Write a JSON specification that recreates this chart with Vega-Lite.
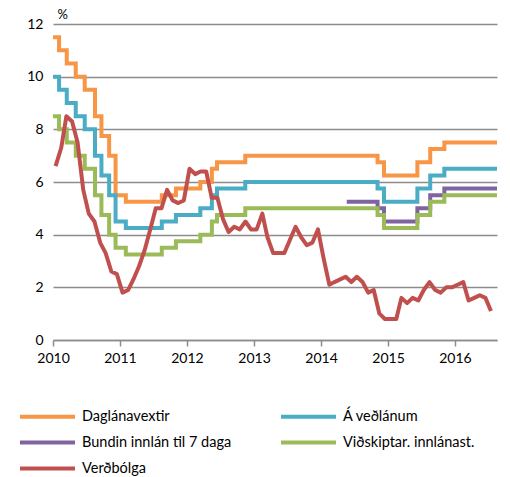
{
  "$schema": "https://vega.github.io/schema/vega-lite/v6.json",
  "width": 444,
  "height": 316,
  "autosize": "none",
  "padding": {"left": 53, "top": 24, "right": 13, "bottom": 137},
  "background": "white",
  "config": {
    "view": {"stroke": null},
    "font": "Lato",
    "axis": {"labelFont": "Lato", "labelFontSize": 14, "labelColor": "#000000", "titleFont": "Lato"},
    "legend": {"labelFont": "Lato"}
  },
  "datasets": {
    "rates": [
      {"date": "2010-01-01", "series": "Daglánavextir", "value": 11.5},
      {"date": "2010-02-03", "series": "Daglánavextir", "value": 11.0},
      {"date": "2010-03-17", "series": "Daglánavextir", "value": 10.5},
      {"date": "2010-05-05", "series": "Daglánavextir", "value": 10.0},
      {"date": "2010-06-23", "series": "Daglánavextir", "value": 9.5},
      {"date": "2010-08-18", "series": "Daglánavextir", "value": 8.5},
      {"date": "2010-09-22", "series": "Daglánavextir", "value": 7.75},
      {"date": "2010-11-03", "series": "Daglánavextir", "value": 7.0},
      {"date": "2010-12-08", "series": "Daglánavextir", "value": 5.5},
      {"date": "2011-02-02", "series": "Daglánavextir", "value": 5.25},
      {"date": "2011-08-17", "series": "Daglánavextir", "value": 5.5},
      {"date": "2011-11-02", "series": "Daglánavextir", "value": 5.75},
      {"date": "2012-03-14", "series": "Daglánavextir", "value": 6.0},
      {"date": "2012-05-16", "series": "Daglánavextir", "value": 6.5},
      {"date": "2012-06-13", "series": "Daglánavextir", "value": 6.75},
      {"date": "2012-11-14", "series": "Daglánavextir", "value": 7.0},
      {"date": "2014-11-05", "series": "Daglánavextir", "value": 6.75},
      {"date": "2014-12-10", "series": "Daglánavextir", "value": 6.25},
      {"date": "2015-06-10", "series": "Daglánavextir", "value": 6.75},
      {"date": "2015-08-19", "series": "Daglánavextir", "value": 7.25},
      {"date": "2015-11-04", "series": "Daglánavextir", "value": 7.5},
      {"date": "2016-08-17", "series": "Daglánavextir", "value": 7.5},

      {"date": "2010-01-01", "series": "Á veðlánum", "value": 10.0},
      {"date": "2010-02-03", "series": "Á veðlánum", "value": 9.5},
      {"date": "2010-03-17", "series": "Á veðlánum", "value": 9.0},
      {"date": "2010-05-05", "series": "Á veðlánum", "value": 8.5},
      {"date": "2010-06-23", "series": "Á veðlánum", "value": 8.0},
      {"date": "2010-08-18", "series": "Á veðlánum", "value": 7.0},
      {"date": "2010-09-22", "series": "Á veðlánum", "value": 6.25},
      {"date": "2010-11-03", "series": "Á veðlánum", "value": 5.5},
      {"date": "2010-12-08", "series": "Á veðlánum", "value": 4.5},
      {"date": "2011-02-02", "series": "Á veðlánum", "value": 4.25},
      {"date": "2011-08-17", "series": "Á veðlánum", "value": 4.5},
      {"date": "2011-11-02", "series": "Á veðlánum", "value": 4.75},
      {"date": "2012-03-14", "series": "Á veðlánum", "value": 5.0},
      {"date": "2012-05-16", "series": "Á veðlánum", "value": 5.5},
      {"date": "2012-06-13", "series": "Á veðlánum", "value": 5.75},
      {"date": "2012-11-14", "series": "Á veðlánum", "value": 6.0},
      {"date": "2014-11-05", "series": "Á veðlánum", "value": 5.75},
      {"date": "2014-12-10", "series": "Á veðlánum", "value": 5.25},
      {"date": "2015-06-10", "series": "Á veðlánum", "value": 5.75},
      {"date": "2015-08-19", "series": "Á veðlánum", "value": 6.25},
      {"date": "2015-11-04", "series": "Á veðlánum", "value": 6.5},
      {"date": "2016-08-17", "series": "Á veðlánum", "value": 6.5},

      {"date": "2014-05-21", "series": "Bundin innlán til 7 daga", "value": 5.25},
      {"date": "2014-11-05", "series": "Bundin innlán til 7 daga", "value": 5.0},
      {"date": "2014-12-10", "series": "Bundin innlán til 7 daga", "value": 4.5},
      {"date": "2015-06-10", "series": "Bundin innlán til 7 daga", "value": 5.0},
      {"date": "2015-08-19", "series": "Bundin innlán til 7 daga", "value": 5.5},
      {"date": "2015-11-04", "series": "Bundin innlán til 7 daga", "value": 5.75},
      {"date": "2016-08-17", "series": "Bundin innlán til 7 daga", "value": 5.75},

      {"date": "2010-01-01", "series": "Viðskiptar. innlánast.", "value": 8.5},
      {"date": "2010-02-03", "series": "Viðskiptar. innlánast.", "value": 8.0},
      {"date": "2010-03-17", "series": "Viðskiptar. innlánast.", "value": 7.5},
      {"date": "2010-05-05", "series": "Viðskiptar. innlánast.", "value": 7.0},
      {"date": "2010-06-23", "series": "Viðskiptar. innlánast.", "value": 6.5},
      {"date": "2010-08-18", "series": "Viðskiptar. innlánast.", "value": 5.5},
      {"date": "2010-09-22", "series": "Viðskiptar. innlánast.", "value": 4.75},
      {"date": "2010-11-03", "series": "Viðskiptar. innlánast.", "value": 4.0},
      {"date": "2010-12-08", "series": "Viðskiptar. innlánast.", "value": 3.5},
      {"date": "2011-02-02", "series": "Viðskiptar. innlánast.", "value": 3.25},
      {"date": "2011-08-17", "series": "Viðskiptar. innlánast.", "value": 3.5},
      {"date": "2011-11-02", "series": "Viðskiptar. innlánast.", "value": 3.75},
      {"date": "2012-03-14", "series": "Viðskiptar. innlánast.", "value": 4.0},
      {"date": "2012-05-16", "series": "Viðskiptar. innlánast.", "value": 4.5},
      {"date": "2012-06-13", "series": "Viðskiptar. innlánast.", "value": 4.75},
      {"date": "2012-11-14", "series": "Viðskiptar. innlánast.", "value": 5.0},
      {"date": "2014-11-05", "series": "Viðskiptar. innlánast.", "value": 4.75},
      {"date": "2014-12-10", "series": "Viðskiptar. innlánast.", "value": 4.25},
      {"date": "2015-06-10", "series": "Viðskiptar. innlánast.", "value": 4.75},
      {"date": "2015-08-19", "series": "Viðskiptar. innlánast.", "value": 5.25},
      {"date": "2015-11-04", "series": "Viðskiptar. innlánast.", "value": 5.5},
      {"date": "2016-08-17", "series": "Viðskiptar. innlánast.", "value": 5.5}
    ],
    "inflation": [
      {"date": "2010-01-15", "series": "Verðbólga", "value": 6.6},
      {"date": "2010-02-15", "series": "Verðbólga", "value": 7.3},
      {"date": "2010-03-15", "series": "Verðbólga", "value": 8.5},
      {"date": "2010-04-15", "series": "Verðbólga", "value": 8.3},
      {"date": "2010-05-15", "series": "Verðbólga", "value": 7.5},
      {"date": "2010-06-15", "series": "Verðbólga", "value": 5.7},
      {"date": "2010-07-15", "series": "Verðbólga", "value": 4.8},
      {"date": "2010-08-15", "series": "Verðbólga", "value": 4.5},
      {"date": "2010-09-15", "series": "Verðbólga", "value": 3.7},
      {"date": "2010-10-15", "series": "Verðbólga", "value": 3.3},
      {"date": "2010-11-15", "series": "Verðbólga", "value": 2.6},
      {"date": "2010-12-15", "series": "Verðbólga", "value": 2.5},
      {"date": "2011-01-15", "series": "Verðbólga", "value": 1.8},
      {"date": "2011-02-15", "series": "Verðbólga", "value": 1.9},
      {"date": "2011-03-15", "series": "Verðbólga", "value": 2.3},
      {"date": "2011-04-15", "series": "Verðbólga", "value": 2.8},
      {"date": "2011-05-15", "series": "Verðbólga", "value": 3.4},
      {"date": "2011-06-15", "series": "Verðbólga", "value": 4.2},
      {"date": "2011-07-15", "series": "Verðbólga", "value": 5.0},
      {"date": "2011-08-15", "series": "Verðbólga", "value": 5.0},
      {"date": "2011-09-15", "series": "Verðbólga", "value": 5.7},
      {"date": "2011-10-15", "series": "Verðbólga", "value": 5.3},
      {"date": "2011-11-15", "series": "Verðbólga", "value": 5.2},
      {"date": "2011-12-15", "series": "Verðbólga", "value": 5.3},
      {"date": "2012-01-15", "series": "Verðbólga", "value": 6.5},
      {"date": "2012-02-15", "series": "Verðbólga", "value": 6.3},
      {"date": "2012-03-15", "series": "Verðbólga", "value": 6.4},
      {"date": "2012-04-15", "series": "Verðbólga", "value": 6.4},
      {"date": "2012-05-15", "series": "Verðbólga", "value": 5.4},
      {"date": "2012-06-15", "series": "Verðbólga", "value": 5.4},
      {"date": "2012-07-15", "series": "Verðbólga", "value": 4.6},
      {"date": "2012-08-15", "series": "Verðbólga", "value": 4.1},
      {"date": "2012-09-15", "series": "Verðbólga", "value": 4.3},
      {"date": "2012-10-15", "series": "Verðbólga", "value": 4.2},
      {"date": "2012-11-15", "series": "Verðbólga", "value": 4.5},
      {"date": "2012-12-15", "series": "Verðbólga", "value": 4.2},
      {"date": "2013-01-15", "series": "Verðbólga", "value": 4.2},
      {"date": "2013-02-15", "series": "Verðbólga", "value": 4.8},
      {"date": "2013-03-15", "series": "Verðbólga", "value": 3.9},
      {"date": "2013-04-15", "series": "Verðbólga", "value": 3.3},
      {"date": "2013-05-15", "series": "Verðbólga", "value": 3.3},
      {"date": "2013-06-15", "series": "Verðbólga", "value": 3.3},
      {"date": "2013-07-15", "series": "Verðbólga", "value": 3.8},
      {"date": "2013-08-15", "series": "Verðbólga", "value": 4.3},
      {"date": "2013-09-15", "series": "Verðbólga", "value": 3.9},
      {"date": "2013-10-15", "series": "Verðbólga", "value": 3.6},
      {"date": "2013-11-15", "series": "Verðbólga", "value": 3.7},
      {"date": "2013-12-15", "series": "Verðbólga", "value": 4.2},
      {"date": "2014-01-15", "series": "Verðbólga", "value": 3.1},
      {"date": "2014-02-15", "series": "Verðbólga", "value": 2.1},
      {"date": "2014-03-15", "series": "Verðbólga", "value": 2.2},
      {"date": "2014-04-15", "series": "Verðbólga", "value": 2.3},
      {"date": "2014-05-15", "series": "Verðbólga", "value": 2.4},
      {"date": "2014-06-15", "series": "Verðbólga", "value": 2.2},
      {"date": "2014-07-15", "series": "Verðbólga", "value": 2.4},
      {"date": "2014-08-15", "series": "Verðbólga", "value": 2.2},
      {"date": "2014-09-15", "series": "Verðbólga", "value": 1.8},
      {"date": "2014-10-15", "series": "Verðbólga", "value": 1.9},
      {"date": "2014-11-15", "series": "Verðbólga", "value": 1.0},
      {"date": "2014-12-15", "series": "Verðbólga", "value": 0.8},
      {"date": "2015-01-15", "series": "Verðbólga", "value": 0.8},
      {"date": "2015-02-15", "series": "Verðbólga", "value": 0.8},
      {"date": "2015-03-15", "series": "Verðbólga", "value": 1.6},
      {"date": "2015-04-15", "series": "Verðbólga", "value": 1.4},
      {"date": "2015-05-15", "series": "Verðbólga", "value": 1.6},
      {"date": "2015-06-15", "series": "Verðbólga", "value": 1.5},
      {"date": "2015-07-15", "series": "Verðbólga", "value": 1.9},
      {"date": "2015-08-15", "series": "Verðbólga", "value": 2.2},
      {"date": "2015-09-15", "series": "Verðbólga", "value": 1.9},
      {"date": "2015-10-15", "series": "Verðbólga", "value": 1.8},
      {"date": "2015-11-15", "series": "Verðbólga", "value": 2.0},
      {"date": "2015-12-15", "series": "Verðbólga", "value": 2.0},
      {"date": "2016-01-15", "series": "Verðbólga", "value": 2.1},
      {"date": "2016-02-15", "series": "Verðbólga", "value": 2.2},
      {"date": "2016-03-15", "series": "Verðbólga", "value": 1.5},
      {"date": "2016-04-15", "series": "Verðbólga", "value": 1.6},
      {"date": "2016-05-15", "series": "Verðbólga", "value": 1.7},
      {"date": "2016-06-15", "series": "Verðbólga", "value": 1.6},
      {"date": "2016-07-15", "series": "Verðbólga", "value": 1.1}
    ]
  },
  "encoding": {
    "x": {
      "field": "date",
      "type": "temporal",
      "scale": {"domain": ["2010-01-01", "2016-08-17"]},
      "axis": {
        "title": null,
        "values": ["2010-01-01", "2011-01-01", "2012-01-01", "2013-01-01", "2014-01-01", "2015-01-01", "2016-01-01"],
        "format": "%Y",
        "grid": false,
        "domainColor": "#8c8c8c",
        "domainWidth": 1.5,
        "tickColor": "#8c8c8c",
        "tickWidth": 1.5,
        "tickSize": 6,
        "labelPadding": 5,
        "labelFlush": false
      }
    },
    "y": {
      "field": "value",
      "type": "quantitative",
      "scale": {"domain": [0, 12]},
      "axis": {
        "title": "%",
        "titleAngle": 0,
        "titleAlign": "left",
        "titleBaseline": "middle",
        "titleX": 4,
        "titleY": -10,
        "titleFontSize": 13,
        "titleFontWeight": "normal",
        "values": [0, 2, 4, 6, 8, 10, 12],
        "domain": false,
        "ticks": false,
        "labelPadding": 10,
        "gridColor": "#8c8c8c",
        "gridWidth": 1.5
      }
    },
    "color": {
      "field": "series",
      "type": "nominal",
      "scale": {
        "domain": ["Daglánavextir", "Á veðlánum", "Bundin innlán til 7 daga", "Viðskiptar. innlánast.", "Verðbólga"],
        "range": ["#F79646", "#4BACC6", "#8064A2", "#9BBB59", "#C0504D"]
      },
      "legend": {
        "title": null,
        "orient": "none",
        "legendX": -13,
        "legendY": 385,
        "direction": "horizontal",
        "columns": 2,
        "symbolType": "M-5,0H5",
        "symbolSize": 121,
        "symbolStrokeWidth": 4,
        "labelFontSize": 14.5,
        "labelColor": "#000000",
        "labelOffset": 27,
        "columnPadding": 41,
        "rowPadding": 9,
        "labelLimit": 300
      }
    }
  },
  "layer": [
    {
      "data": {"name": "rates"},
      "mark": {"type": "line", "interpolate": "step-after", "strokeWidth": 4, "strokeCap": "butt"}
    },
    {
      "data": {"name": "inflation"},
      "mark": {"type": "line", "strokeWidth": 4, "strokeJoin": "round"}
    }
  ]
}
